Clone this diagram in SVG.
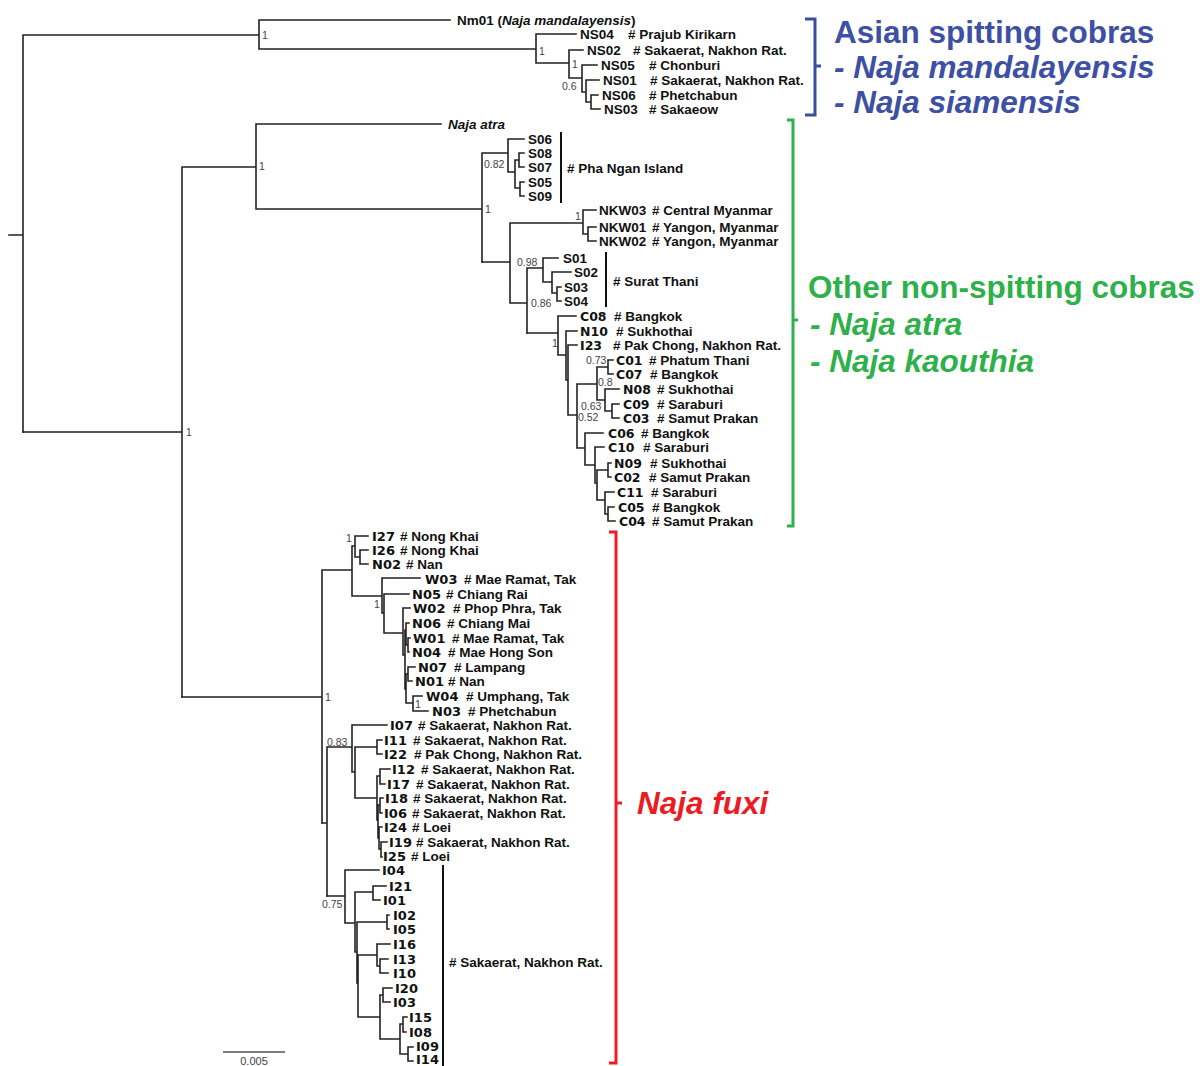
<svg xmlns="http://www.w3.org/2000/svg" width="1203" height="1066" viewBox="0 0 1203 1066">
<style>
.br{stroke:#222;stroke-width:1.6;fill:none;stroke-linecap:square}
.bar{stroke:#111;stroke-width:2;fill:none}
.nA{font-family:"Liberation Sans",Arial,sans-serif;font-weight:bold;font-size:13.5px;fill:#111}
.nB{font-family:"DejaVu Sans",Verdana,sans-serif;font-weight:bold;font-size:12.5px;fill:#111}
.nC{font-family:"DejaVu Sans",Verdana,sans-serif;font-weight:bold;font-size:13px;fill:#111}
.lc{font-family:"Liberation Sans",Arial,sans-serif;font-weight:bold;font-size:13.5px;fill:#111}
.pp{font-family:"Liberation Sans",Arial,sans-serif;font-size:10.5px;fill:#444}
.big{font-family:"Liberation Sans",Arial,sans-serif;font-weight:bold;font-size:31.5px}
.it{font-style:italic}
</style>
<rect width="1203" height="1066" fill="#fff"/>
<g id="connectors" class="br">
<path d="M9 235H23M23 35V432M23 35H259M259 20V49M259 20H450M259 49H536M536 34V63M536 34H576M536 63H569M569 50V78M569 50H583M569 78H582M582 65V92M582 65H597M582 92H586M586 80V102M586 80H599M586 102H591M591 95V109M591 95H598M591 109H600"/>
<path d="M23 432H182M182 167V697M182 167H256M256 124V209M256 124H441M256 209H482M482 153V262M482 153H508M508 139V172M508 139H524M508 172H515M515 160V188M515 160H519M519 153V167M519 153H524M519 167H524M515 188H520M520 182V196M520 182H524M520 196H524"/>
<path d="M482 262H510M510 223V303M510 223H583M583 210V234M583 210H596M583 234H588M588 227V241M588 227H596M588 241H596M510 303H527M527 268V333M527 268H543M543 258V282M543 258H558M543 282H552M552 272V293M552 272H571M552 293H557M557 287V301M557 287H561M557 301H561"/>
<path d="M527 333H558M558 316V355M558 316H576M558 355H566M566 331V380M566 331H577M566 380H568M568 345V415M568 345H577M568 415H577M577 384V448M577 384H597M597 367V400M597 367H608M608 360V374M608 360H613M608 374H613M597 400H605M605 389V411M605 389H619M605 411H612M612 404V418M612 404H619M612 418H619M577 448H585M585 433V465M585 433H603M585 465H595M595 447V483M595 447H604M595 483H597M597 470V500M597 470H608M608 463V477M608 463H611M608 477H611M597 500H605M605 492V514M605 492H614M605 514H608M608 507V521M608 507H614M608 521H615"/>
<path d="M182 697H322M322 570V823M322 570H352M352 546V596M352 546H355M355 536V557M355 536H368M355 557H360M360 550V564M360 550H368M360 564H368M352 596H382M382 578V613M382 578H420M382 613H384M384 594V633M384 594H409M384 633H403M403 608V655M403 608H410M403 655H405M405 630V689M405 630H406M406 623V645M406 623H409M406 645H408M408 638V652M408 638H410M408 652H409M405 689H406M406 674V703M406 674H408M408 667V681M408 667H415M408 681H412M406 703H413M413 696V711M413 696H422M413 711H428"/>
<path d="M322 823H327M327 747V896M327 747H352M352 725V772M352 725H387M352 772H355M355 747V798M355 747H377M377 740V754M377 740H382M377 754H382M355 798H377M377 776V820M377 776H380M380 769V784M380 769H390M380 784H385M377 820H378M378 805V838M378 805H380M380 798V813M380 798H383M380 813H382M378 838H379M379 827V849M379 827H382M379 849H381M381 842V857M381 842H387M381 857H382"/>
<path d="M327 896H345M345 870V923M345 870H379M345 923H355M355 892V952M355 892H373M373 886V900M373 886H386M373 900H380M355 952H357M357 922V983M357 922H387M387 915V929M387 915H389M387 929H389M357 983H358M358 955V1017M358 955H377M377 944V966M377 944H390M377 966H380M380 959V973M380 959H388M380 973H388M358 1017H380M380 995V1039M380 995H383M383 988V1002M383 988H392M383 1002H390M380 1039H400M400 1024V1054M400 1024H403M403 1017V1032M403 1017H407M403 1032H406M400 1054H408M408 1047V1061M408 1047H413M408 1061H413"/>
</g>
<g id="support-values" class="pp">
<text x="262" y="39">1</text>
<text x="539" y="55">1</text>
<text x="572" y="68">1</text>
<text x="562" y="90">0.6</text>
<text x="186" y="436">1</text>
<text x="259" y="170">1</text>
<text x="485" y="213">1</text>
<text x="484" y="168">0.82</text>
<text x="575" y="220">1</text>
<text x="517" y="266">0.98</text>
<text x="531" y="307">0.86</text>
<text x="552" y="347">1</text>
<text x="586" y="364">0.73</text>
<text x="598" y="386">0.8</text>
<text x="581" y="410">0.63</text>
<text x="578" y="421">0.52</text>
<text x="346" y="542">1</text>
<text x="374" y="608">1</text>
<text x="415" y="708">1</text>
<text x="325" y="701">1</text>
<text x="327" y="746">0.83</text>
<text x="322" y="908">0.75</text>
</g>
<g id="clade-asian">
<text class="lc" x="457" y="25">Nm01 (<tspan class="it">Naja mandalayensis</tspan>)</text>
<g id="NS04"><text class="nA" x="580" y="39">NS04</text><text class="lc" x="628" y="39"># Prajub Kirikarn</text></g>
<g id="NS02"><text class="nA" x="587" y="55">NS02</text><text class="lc" x="633" y="55"># Sakaerat, Nakhon Rat.</text></g>
<g id="NS05"><text class="nA" x="601" y="70">NS05</text><text class="lc" x="649" y="70"># Chonburi</text></g>
<g id="NS01"><text class="nA" x="603" y="85">NS01</text><text class="lc" x="650" y="85"># Sakaerat, Nakhon Rat.</text></g>
<g id="NS06"><text class="nA" x="602" y="100">NS06</text><text class="lc" x="649" y="100"># Phetchabun</text></g>
<g id="NS03"><text class="nA" x="604" y="114">NS03</text><text class="lc" x="649" y="114"># Sakaeow</text></g>
</g>
<g id="clade-nonspitting">
<text class="lc it" x="448" y="129">Naja atra</text>
<g id="S06"><text class="nA" x="528" y="144">S06</text></g>
<g id="S08"><text class="nA" x="528" y="158">S08</text></g>
<g id="S07"><text class="nA" x="528" y="172">S07</text></g>
<g id="S05"><text class="nA" x="528" y="187">S05</text></g>
<g id="S09"><text class="nA" x="528" y="201">S09</text></g>
<path class="bar" d="M561 132V203"/>
<text class="lc" x="567" y="173"># Pha Ngan Island</text>
<g id="NKW03"><text class="nA" x="599" y="215">NKW03</text><text class="lc" x="652" y="215"># Central Myanmar</text></g>
<g id="NKW01"><text class="nA" x="599" y="232">NKW01</text><text class="lc" x="652" y="232"># Yangon, Myanmar</text></g>
<g id="NKW02"><text class="nA" x="599" y="246">NKW02</text><text class="lc" x="652" y="246"># Yangon, Myanmar</text></g>
<g id="S01"><text class="nA" x="563" y="263">S01</text></g>
<g id="S02"><text class="nA" x="574" y="277">S02</text></g>
<g id="S03"><text class="nA" x="564" y="292">S03</text></g>
<g id="S04"><text class="nA" x="564" y="306">S04</text></g>
<path class="bar" d="M606 252V307"/>
<text class="lc" x="613" y="286"># Surat Thani</text>
<g id="C08"><text class="nB" x="580" y="321">C08</text><text class="lc" x="614" y="321"># Bangkok</text></g>
<g id="N10"><text class="nB" x="580" y="336">N10</text><text class="lc" x="616" y="336"># Sukhothai</text></g>
<g id="I23"><text class="nB" x="580" y="350">I23</text><text class="lc" x="613" y="350"># Pak Chong, Nakhon Rat.</text></g>
<g id="C01"><text class="nB" x="616" y="365">C01</text><text class="lc" x="649" y="365"># Phatum Thani</text></g>
<g id="C07"><text class="nB" x="616" y="379">C07</text><text class="lc" x="650" y="379"># Bangkok</text></g>
<g id="N08"><text class="nB" x="623" y="394">N08</text><text class="lc" x="657" y="394"># Sukhothai</text></g>
<g id="C09"><text class="nB" x="623" y="409">C09</text><text class="lc" x="657" y="409"># Saraburi</text></g>
<g id="C03"><text class="nB" x="623" y="423">C03</text><text class="lc" x="657" y="423"># Samut Prakan</text></g>
<g id="C06"><text class="nB" x="608" y="438">C06</text><text class="lc" x="641" y="438"># Bangkok</text></g>
<g id="C10"><text class="nB" x="608" y="452">C10</text><text class="lc" x="643" y="452"># Saraburi</text></g>
<g id="N09"><text class="nB" x="614" y="468">N09</text><text class="lc" x="650" y="468"># Sukhothai</text></g>
<g id="C02"><text class="nB" x="614" y="482">C02</text><text class="lc" x="649" y="482"># Samut Prakan</text></g>
<g id="C11"><text class="nB" x="617" y="497">C11</text><text class="lc" x="651" y="497"># Saraburi</text></g>
<g id="C05"><text class="nB" x="618" y="512">C05</text><text class="lc" x="652" y="512"># Bangkok</text></g>
<g id="C04"><text class="nB" x="619" y="526">C04</text><text class="lc" x="652" y="526"># Samut Prakan</text></g>
</g>
<g id="clade-fuxi">
<g id="I27"><text class="nC" x="372" y="541">I27</text><text class="lc" x="400" y="541"># Nong Khai</text></g>
<g id="I26"><text class="nC" x="372" y="555">I26</text><text class="lc" x="400" y="555"># Nong Khai</text></g>
<g id="N02"><text class="nC" x="372" y="569">N02</text><text class="lc" x="406" y="569"># Nan</text></g>
<g id="W03"><text class="nC" x="425" y="584">W03</text><text class="lc" x="464" y="584"># Mae Ramat, Tak</text></g>
<g id="N05"><text class="nC" x="412" y="599">N05</text><text class="lc" x="446" y="599"># Chiang Rai</text></g>
<g id="W02"><text class="nC" x="413" y="613">W02</text><text class="lc" x="453" y="613"># Phop Phra, Tak</text></g>
<g id="N06"><text class="nC" x="412" y="628">N06</text><text class="lc" x="447" y="628"># Chiang Mai</text></g>
<g id="W01"><text class="nC" x="413" y="643">W01</text><text class="lc" x="452" y="643"># Mae Ramat, Tak</text></g>
<g id="N04"><text class="nC" x="412" y="657">N04</text><text class="lc" x="448" y="657"># Mae Hong Son</text></g>
<g id="N07"><text class="nC" x="418" y="672">N07</text><text class="lc" x="454" y="672"># Lampang</text></g>
<g id="N01"><text class="nC" x="415" y="686">N01</text><text class="lc" x="448" y="686"># Nan</text></g>
<g id="W04"><text class="nC" x="426" y="701">W04</text><text class="lc" x="466" y="701"># Umphang, Tak</text></g>
<g id="N03"><text class="nC" x="432" y="716">N03</text><text class="lc" x="468" y="716"># Phetchabun</text></g>
<g id="I07"><text class="nC" x="390" y="730">I07</text><text class="lc" x="418" y="730"># Sakaerat, Nakhon Rat.</text></g>
<g id="I11"><text class="nC" x="384" y="745">I11</text><text class="lc" x="413" y="745"># Sakaerat, Nakhon Rat.</text></g>
<g id="I22"><text class="nC" x="384" y="759">I22</text><text class="lc" x="414" y="759"># Pak Chong, Nakhon Rat.</text></g>
<g id="I12"><text class="nC" x="392" y="774">I12</text><text class="lc" x="421" y="774"># Sakaerat, Nakhon Rat.</text></g>
<g id="I17"><text class="nC" x="387" y="789">I17</text><text class="lc" x="416" y="789"># Sakaerat, Nakhon Rat.</text></g>
<g id="I18"><text class="nC" x="385" y="803">I18</text><text class="lc" x="413" y="803"># Sakaerat, Nakhon Rat.</text></g>
<g id="I06"><text class="nC" x="384" y="818">I06</text><text class="lc" x="412" y="818"># Sakaerat, Nakhon Rat.</text></g>
<g id="I24"><text class="nC" x="384" y="832">I24</text><text class="lc" x="412" y="832"># Loei</text></g>
<g id="I19"><text class="nC" x="389" y="847">I19</text><text class="lc" x="416" y="847"># Sakaerat, Nakhon Rat.</text></g>
<g id="I25"><text class="nC" x="383" y="861">I25</text><text class="lc" x="411" y="861"># Loei</text></g>
<g id="I04"><text class="nC" x="382" y="875">I04</text></g>
<g id="I21"><text class="nC" x="389" y="891">I21</text></g>
<g id="I01"><text class="nC" x="383" y="905">I01</text></g>
<g id="I02"><text class="nC" x="393" y="920">I02</text></g>
<g id="I05"><text class="nC" x="393" y="934">I05</text></g>
<g id="I16"><text class="nC" x="393" y="949">I16</text></g>
<g id="I13"><text class="nC" x="393" y="964">I13</text></g>
<g id="I10"><text class="nC" x="393" y="978">I10</text></g>
<g id="I20"><text class="nC" x="395" y="993">I20</text></g>
<g id="I03"><text class="nC" x="393" y="1007">I03</text></g>
<g id="I15"><text class="nC" x="409" y="1022">I15</text></g>
<g id="I08"><text class="nC" x="409" y="1037">I08</text></g>
<g id="I09"><text class="nC" x="416" y="1051">I09</text></g>
<g id="I14"><text class="nC" x="416" y="1064">I14</text></g>
<path class="bar" d="M443 865V1066"/>
<text class="lc" x="449" y="967"># Sakaerat, Nakhon Rat.</text>
</g>
<g id="scale-bar">
<path d="M223 1052H285" stroke="#555" stroke-width="1.5"/>
<text class="pp" x="254" y="1065" text-anchor="middle" style="font-size:11px">0.005</text>
</g>
<g id="group-asian-spitting">
<path d="M805 19H815V115H805M815 66H821" fill="none" stroke="#3b4ea0" stroke-width="3"/>
<text class="big" x="834" y="43" fill="#3d50a3">Asian spitting cobras</text>
<text class="big it" x="834" y="78" fill="#3d50a3">- Naja mandalayensis</text>
<text class="big it" x="834" y="113" fill="#3d50a3">- Naja siamensis</text>
</g>
<g id="group-nonspitting">
<path d="M787 120H793V526H787M793 320H798" fill="none" stroke="#2eb04a" stroke-width="3"/>
<text class="big" x="808" y="298" fill="#2eb04a">Other non-spitting cobras</text>
<text class="big it" x="810" y="335" fill="#2eb04a">- Naja atra</text>
<text class="big it" x="810" y="372" fill="#2eb04a">- Naja kaouthia</text>
</g>
<g id="group-fuxi">
<path d="M609 532H616V1063H609M616 803H622" fill="none" stroke="#ec1c24" stroke-width="3"/>
<text class="big it" x="637" y="814" fill="#ec1c24">Naja fuxi</text>
</g>
</svg>
